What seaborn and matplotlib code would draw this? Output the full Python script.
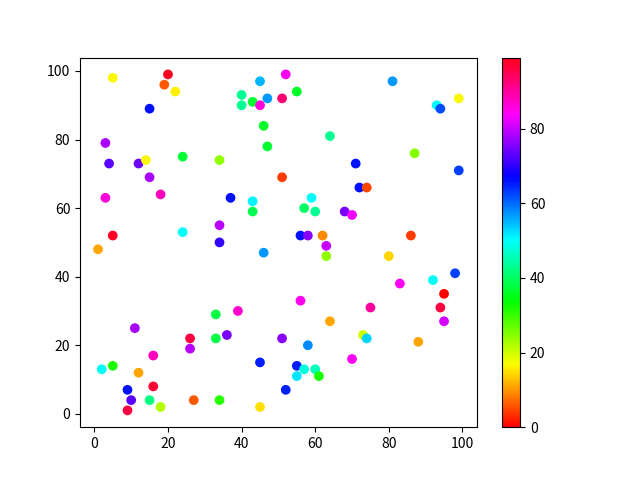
import matplotlib
matplotlib.use("Agg")
import matplotlib.pyplot as plt
import seaborn as sns
import pandas as pd

# point positions and colour values
x = [5, 20, 19, 22, 15, 3, 4, 12, 14, 15, 24, 34,
     45, 52, 40, 40, 43, 45, 47, 51, 55, 46, 47, 64, 51,
     81, 93, 94, 99, 87, 71, 99,
     72, 74, 68, 70, 86, 80, 98, 92, 83, 95,
     94, 95, 75, 73, 74, 88, 70,
     3, 18, 5, 1, 24, 34, 34,
     37, 43, 43, 59, 57, 60, 46, 56, 58, 62, 63, 63, 56,
     33, 33, 11, 26, 26, 16, 2, 5, 12, 9, 16, 10, 15, 9, 18, 27, 34,
     39, 64, 36, 51, 58, 45, 55, 57, 60, 55, 61, 52, 45]
y = [98, 99, 96, 94, 89, 79, 73, 73, 74, 69, 75, 74,
     97, 99, 93, 90, 91, 90, 92, 92, 94, 84, 78, 81, 69,
     97, 90, 89, 92, 76, 73, 71,
     66, 66, 59, 58, 52, 46, 41, 39, 38, 35,
     31, 27, 31, 23, 22, 21, 16,
     63, 64, 52, 48, 53, 55, 50,
     63, 62, 59, 63, 60, 59, 47, 52, 52, 52, 49, 46, 33,
     29, 22, 25, 22, 19, 17, 13, 14, 12, 7, 8, 4, 4, 1, 2, 4, 4,
     30, 27, 23, 22, 20, 15, 14, 13, 13, 11, 11, 7, 2]
colors = [17, 98, 6, 16, 66, 78, 73, 74, 17, 78, 37, 24,
          55, 84, 43, 43, 37, 86, 57, 93, 36, 36, 37, 43, 4,
          57, 50, 62, 17, 25, 66, 63,
          66, 5, 75, 83, 4, 14, 63, 50, 84, 0,
          96, 81, 90, 20, 53, 11, 84,
          86, 88, 98, 11, 50, 79, 70,
          66, 51, 39, 50, 40, 43, 57, 66, 76, 9, 80, 24, 85,
          38, 38, 78, 96, 79, 88, 50, 32, 11, 66, 97, 73, 42, 96, 22, 6, 31,
          87, 11, 75, 76, 58, 65, 65, 48, 46, 52, 32, 65, 15]

df = pd.DataFrame({'x': x, 'y': y, 'c': colors})

plt.rcParams['font.family'] = ['Noto Sans CJK SC', 'DejaVu Sans']

fig, ax = plt.subplots(figsize=(6.4, 4.8), dpi=100)
norm = plt.Normalize(0, 99)
sns.scatterplot(data=df, x='x', y='y', hue='c', palette='hsv', hue_norm=norm,
                s=36, linewidth=1, edgecolor='face', legend=False, ax=ax)
ax.set_xlabel('')
ax.set_ylabel('')

sm = plt.cm.ScalarMappable(cmap='hsv', norm=norm)
sm.set_array([])
fig.colorbar(sm, ax=ax)

fig.savefig('out.png', dpi=100)
